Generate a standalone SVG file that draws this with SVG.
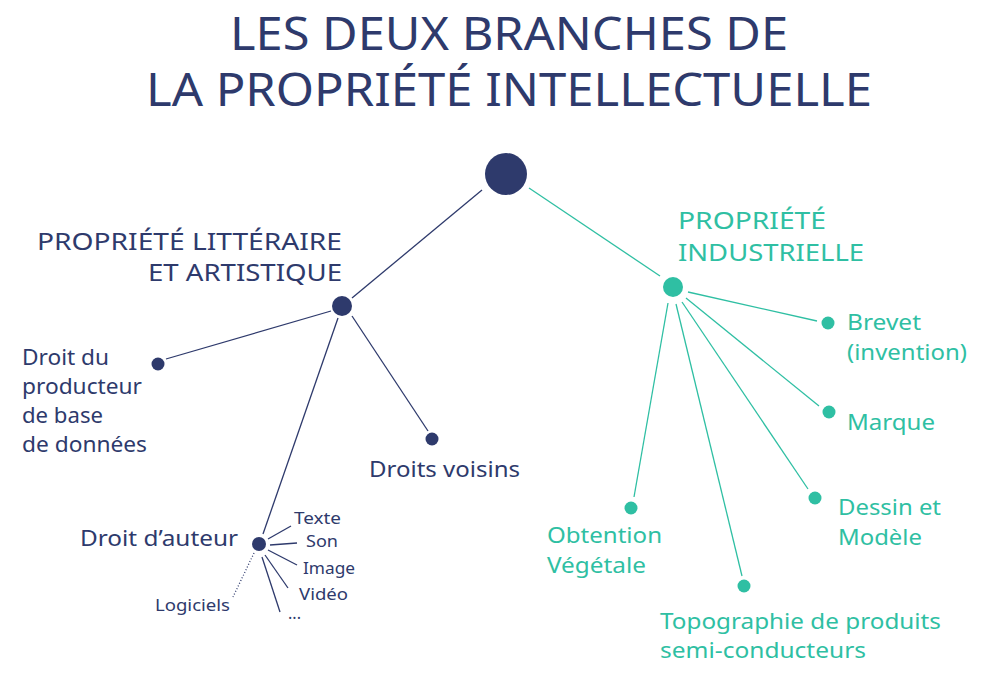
<svg xmlns="http://www.w3.org/2000/svg" width="993" height="675" viewBox="0 0 993 675">
<style>
text{font-family:"Noto Sans","Open Sans","DejaVu Sans",sans-serif}
.n{fill:#2e3a6c}
.t{fill:#2fbfa3}
.title{font-size:46px}
.h{font-size:23px}
.l{font-size:21px}
.s{font-size:16.5px}
.cn{stroke:#2e3a6c;stroke-width:1.3;fill:none}
.ct{stroke:#2fbfa3;stroke-width:1.3;fill:none}
</style>
<rect width="993" height="675" fill="#ffffff"/>
<g id="title">
<text class="title n" x="230" y="50" textLength="558" lengthAdjust="spacingAndGlyphs">LES DEUX BRANCHES DE</text>
<text class="title n" x="146" y="106" textLength="726" lengthAdjust="spacingAndGlyphs">LA PROPRIÉTÉ INTELLECTUELLE</text>
</g>
<g id="connectors">
<line class="cn" x1="482" y1="190" x2="352" y2="298"/>
<line class="ct" x1="529" y1="188" x2="660" y2="276"/>
<line class="cn" x1="331" y1="311" x2="166" y2="359"/>
<line class="cn" x1="352" y1="316" x2="428" y2="431"/>
<line class="cn" x1="338" y1="318" x2="263" y2="534"/>
<line class="ct" x1="688" y1="292" x2="817" y2="321"/>
<line class="ct" x1="686" y1="298" x2="819" y2="406"/>
<line class="ct" x1="682" y1="302" x2="808" y2="489"/>
<line class="ct" x1="676" y1="304" x2="742" y2="576"/>
<line class="ct" x1="668" y1="303" x2="634" y2="497"/>
<line class="cn" x1="268" y1="539" x2="291" y2="526"/>
<line class="cn" x1="270" y1="545" x2="297" y2="543"/>
<line class="cn" x1="268" y1="550" x2="297" y2="565"/>
<line class="cn" x1="265" y1="555" x2="288" y2="588"/>
<line class="cn" x1="262" y1="557" x2="280" y2="612"/>
<line class="cn" x1="254" y1="553" x2="233" y2="597" stroke-dasharray="1 2"/>
</g>
<g id="root"><circle cx="506" cy="174" r="21" fill="#2e3a6c"/></g>
<g id="pla">
<circle cx="342" cy="306" r="10" fill="#2e3a6c"/>
<text class="h n" x="37" y="250" textLength="305" lengthAdjust="spacingAndGlyphs">PROPRIÉTÉ LITTÉRAIRE</text>
<text class="h n" x="148" y="281" textLength="194" lengthAdjust="spacingAndGlyphs">ET ARTISTIQUE</text>
</g>
<g id="pi">
<circle cx="673" cy="287" r="10" fill="#2fbfa3"/>
<text class="h t" x="678" y="229" textLength="148" lengthAdjust="spacingAndGlyphs">PROPRIÉTÉ</text>
<text class="h t" x="678" y="261" textLength="186" lengthAdjust="spacingAndGlyphs">INDUSTRIELLE</text>
</g>
<g id="producteur">
<circle cx="158" cy="364" r="6.5" fill="#2e3a6c"/>
<text class="l n" x="22" y="365" textLength="87" lengthAdjust="spacingAndGlyphs">Droit du</text>
<text class="l n" x="22" y="394" textLength="120" lengthAdjust="spacingAndGlyphs">producteur</text>
<text class="l n" x="22" y="423" textLength="81" lengthAdjust="spacingAndGlyphs">de base</text>
<text class="l n" x="22" y="452" textLength="125" lengthAdjust="spacingAndGlyphs">de données</text>
</g>
<g id="voisins">
<circle cx="432" cy="439" r="6.5" fill="#2e3a6c"/>
<text class="l n" x="369" y="477" textLength="151" lengthAdjust="spacingAndGlyphs">Droits voisins</text>
</g>
<g id="auteur">
<circle cx="259" cy="544" r="7" fill="#2e3a6c"/>
<text class="l n" x="80" y="546" textLength="158" lengthAdjust="spacingAndGlyphs">Droit d’auteur</text>
</g>
<g id="texte"><text class="s n" x="294" y="524" textLength="47" lengthAdjust="spacingAndGlyphs">Texte</text></g>
<g id="son"><text class="s n" x="306" y="547" textLength="32" lengthAdjust="spacingAndGlyphs">Son</text></g>
<g id="image"><text class="s n" x="303" y="574" textLength="52" lengthAdjust="spacingAndGlyphs">Image</text></g>
<g id="video"><text class="s n" x="299" y="600" textLength="49" lengthAdjust="spacingAndGlyphs">Vidéo</text></g>
<g id="etc"><text class="s n" x="288" y="619" textLength="13" lengthAdjust="spacingAndGlyphs">...</text></g>
<g id="logiciels"><text class="s n" x="155" y="611" textLength="75" lengthAdjust="spacingAndGlyphs">Logiciels</text></g>
<g id="brevet">
<circle cx="828" cy="323" r="6.5" fill="#2fbfa3"/>
<text class="l t" x="847" y="330" textLength="74" lengthAdjust="spacingAndGlyphs">Brevet</text>
<text class="l t" x="847" y="360" textLength="120" lengthAdjust="spacingAndGlyphs">(invention)</text>
</g>
<g id="marque">
<circle cx="829" cy="412" r="6.5" fill="#2fbfa3"/>
<text class="l t" x="847" y="430" textLength="88" lengthAdjust="spacingAndGlyphs">Marque</text>
</g>
<g id="dessin">
<circle cx="815" cy="498" r="6.5" fill="#2fbfa3"/>
<text class="l t" x="838" y="515" textLength="103" lengthAdjust="spacingAndGlyphs">Dessin et</text>
<text class="l t" x="838" y="545" textLength="84" lengthAdjust="spacingAndGlyphs">Modèle</text>
</g>
<g id="topographie">
<circle cx="744" cy="586" r="6.5" fill="#2fbfa3"/>
<text class="l t" x="660" y="629" textLength="281" lengthAdjust="spacingAndGlyphs">Topographie de produits</text>
<text class="l t" x="660" y="658" textLength="206" lengthAdjust="spacingAndGlyphs">semi-conducteurs</text>
</g>
<g id="obtention">
<circle cx="631" cy="508" r="6.5" fill="#2fbfa3"/>
<text class="l t" x="547" y="543" textLength="115" lengthAdjust="spacingAndGlyphs">Obtention</text>
<text class="l t" x="547" y="573" textLength="99" lengthAdjust="spacingAndGlyphs">Végétale</text>
</g>
</svg>
